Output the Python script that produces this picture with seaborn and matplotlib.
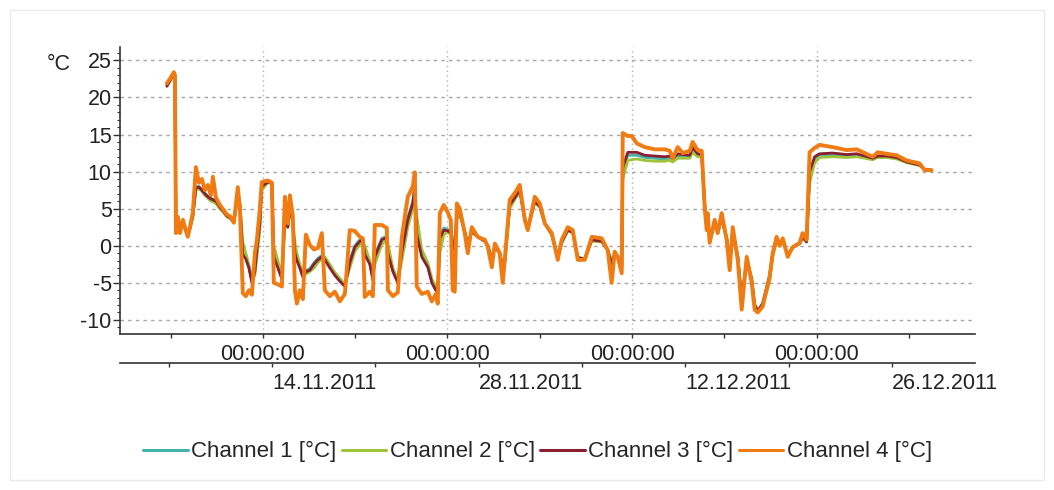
import pandas as pd
import seaborn as sns
import matplotlib.pyplot as plt
from matplotlib.ticker import MultipleLocator
from matplotlib.patches import Rectangle

# time of each sample, in days after 06.11.2011 00:00
days = [0.72, 0.95, 1.25, 1.33, 1.41, 1.56, 1.71, 1.94, 2.16, 2.31,
        2.47, 2.69, 2.92, 3.15, 3.38, 3.60, 3.83, 4.06, 4.21, 4.44,
        4.74, 5.04, 5.27, 5.50, 5.80, 6.10, 6.26, 6.48, 6.71, 6.94,
        7.17, 7.39, 7.55, 7.77, 7.92, 8.38, 8.68, 8.83, 9.14, 9.44,
        9.67, 9.89, 10.05, 10.27, 10.43, 10.58, 10.80, 11.03, 11.26, 11.56,
        11.87, 12.17, 12.47, 12.70, 13.08, 13.46, 13.84, 14.22, 14.59, 14.97,
        15.35, 15.58, 15.73, 16.11, 16.34, 16.49, 17.02, 17.40, 17.48, 17.86,
        18.23, 18.54, 18.99, 19.37, 19.52, 19.67, 20.05, 20.51, 20.81, 21.11,
        21.26, 21.42, 21.72, 22.02, 22.25, 22.40, 22.55, 22.71, 22.93, 23.31,
        23.54, 23.84, 24.30, 24.83, 25.06, 25.36, 25.59, 25.96, 26.19, 26.34,
        26.72, 27.10, 27.48, 27.86, 28.09, 28.62, 29.00, 29.38, 29.91, 30.36,
        30.66, 31.12, 31.50, 31.88, 32.41, 32.94, 33.70, 34.15, 34.45, 34.68,
        34.91, 35.21, 35.29, 35.67, 35.97, 36.35, 36.96, 37.71, 38.47, 38.85,
        39.08, 39.46, 39.84, 40.37, 40.59, 40.97, 41.28, 41.50, 41.66, 41.73,
        41.88, 42.26, 42.49, 42.79, 43.17, 43.40, 43.63, 44.01, 44.31, 44.69,
        45.07, 45.29, 45.52, 45.90, 46.43, 46.66, 46.96, 47.19, 47.42, 47.80,
        48.17, 48.71, 48.93, 49.23, 49.46, 49.84, 50.22, 51.20, 52.27, 53.03,
        54.24, 54.62, 55.30, 56.06, 56.82, 57.80, 58.18, 58.71]

ch1 = [21.6, 22.3, 23.3, 23.0, 1.8, 3.6, 1.8, 3.3, 2.1, 1.4,
       2.4, 4.1, 8.0, 8.0, 7.6, 7.1, 6.7, 6.4, 6.3, 6.1,
       5.3, 4.7, 4.1, 3.9, 3.2, 7.4, 5.4, -1.0, -1.6, -2.8,
       -4.8, -3.2, -0.2, 3.3, 8.2, 8.7, 8.5, -1.2, -2.8, -4.3,
       4.3, 2.6, 5.7, 3.2, -0.8, -1.8, -2.8, -4.0, -3.3, -3.1,
       -2.3, -1.7, -1.3, -1.7, -2.8, -3.8, -4.6, -5.3, -2.0, 0.0,
       0.8, 0.9, -1.0, -2.3, -4.4, -1.2, 1.0, 1.3, -0.8, -3.3,
       -4.8, -0.5, 3.8, 6.0, 8.2, 2.0, -1.2, -2.7, -4.8, -5.8,
       -6.0, 1.3, 2.4, 2.2, 1.9, 0.8, -0.4, 4.7, 4.6, 1.8,
       0.0, 2.1, 1.2, 0.7, 0.0, -2.0, 0.0, -1.0, -3.0, -2.0,
       5.6, 6.6, 7.6, 3.6, 2.3, 6.1, 5.4, 3.0, 1.5, -1.6,
       0.5, 2.2, 1.8, -1.6, -1.8, 0.9, 0.7, -0.6, -2.3, -1.0,
       -1.5, -3.0, 10.0, 12.2, 12.2, 12.2, 11.9, 11.8, 11.7, 11.8,
       11.6, 12.1, 12.0, 12.0, 13.0, 12.2, 12.1, 5.5, 2.5, 4.0,
       0.8, 3.0, 1.8, 3.9, 1.0, -2.5, 2.0, -1.5, -7.6, -1.8,
       -4.7, -8.1, -8.8, -7.8, -4.0, -1.0, 1.0, 0.0, 0.8, -1.3,
       -0.2, 0.3, 1.2, 0.6, 9.5, 11.7, 12.2, 12.3, 12.1, 12.2,
       11.7, 12.0, 12.0, 11.8, 11.3, 10.9, 10.3, 10.2]

ch2 = [21.7, 22.3, 23.3, 23.0, 2.0, 3.4, 2.0, 3.1, 2.3, 1.6,
       2.3, 3.8, 7.5, 7.7, 7.3, 6.8, 6.4, 6.0, 5.9, 5.7,
       5.0, 4.4, 3.9, 3.7, 3.2, 7.0, 5.8, 0.5, -1.0, -2.5,
       -4.6, -4.0, -1.5, 2.0, 7.5, 8.5, 8.4, 0.0, -2.0, -4.0,
       3.0, 2.5, 5.0, 3.2, 0.5, -1.0, -2.5, -3.8, -3.8, -3.5,
       -3.0, -2.3, -1.8, -1.5, -2.5, -3.6, -4.4, -5.2, -3.0, -0.8,
       0.2, 0.6, 0.0, -2.0, -4.0, -2.5, 0.2, 0.8, 0.3, -3.0,
       -4.6, -2.0, 2.5, 5.0, 7.0, 4.0, -0.5, -2.3, -4.4, -5.6,
       -5.8, -1.0, 1.5, 1.8, 1.6, 1.2, 0.2, 3.5, 4.2, 2.0,
       0.5, 1.8, 1.2, 0.6, 0.1, -1.5, -0.3, -1.0, -2.5, -2.2,
       5.0, 6.2, 7.2, 3.8, 2.4, 5.8, 5.2, 3.0, 1.5, -1.5,
       0.3, 2.0, 1.8, -1.5, -1.8, 0.6, 0.5, -0.6, -2.0, -1.0,
       -1.5, -2.8, 9.0, 11.5, 11.6, 11.7, 11.5, 11.4, 11.4, 11.5,
       11.3, 11.8, 11.8, 11.8, 12.6, 12.0, 12.0, 6.0, 2.8, 3.8,
       1.0, 2.8, 1.8, 3.5, 1.0, -2.0, 1.5, -1.2, -7.0, -2.0,
       -4.3, -7.8, -8.6, -8.0, -4.8, -1.5, 0.6, 0.0, 0.7, -1.2,
       -0.3, 0.3, 1.0, 0.6, 8.5, 11.2, 11.9, 12.0, 11.9, 12.0,
       11.6, 11.9, 11.9, 11.7, 11.2, 10.8, 10.3, 10.2]

ch3 = [21.5, 22.2, 23.2, 22.9, 1.9, 3.5, 1.9, 3.2, 2.2, 1.5,
       2.4, 4.0, 7.8, 7.9, 7.5, 7.0, 6.6, 6.3, 6.2, 6.0,
       5.2, 4.6, 4.0, 3.8, 3.2, 7.2, 5.5, -1.2, -1.8, -3.0,
       -5.0, -3.5, -0.5, 3.0, 8.0, 8.6, 8.4, -1.5, -3.0, -4.5,
       4.0, 2.5, 5.5, 3.0, -1.0, -2.0, -3.0, -4.2, -3.5, -3.3,
       -2.5, -1.9, -1.5, -1.9, -3.0, -4.0, -4.8, -5.5, -2.3, -0.2,
       0.6, 0.8, -1.2, -2.5, -4.6, -1.5, 0.8, 1.1, -1.0, -3.5,
       -5.0, -0.8, 3.5, 5.7, 7.9, 1.5, -1.5, -2.9, -5.0, -6.0,
       -6.2, 1.0, 2.1, 2.0, 1.7, 0.5, -0.6, 4.5, 4.5, 1.8,
       0.0, 2.0, 1.2, 0.6, 0.0, -2.0, 0.0, -1.0, -3.0, -2.0,
       5.5, 6.5, 7.5, 3.6, 2.3, 6.0, 5.3, 3.0, 1.5, -1.6,
       0.5, 2.1, 1.8, -1.6, -1.8, 0.8, 0.6, -0.6, -2.5, -1.0,
       -1.5, -3.0, 10.5, 12.6, 12.6, 12.6, 12.2, 12.1, 12.0, 12.1,
       11.8, 12.4, 12.3, 12.2, 13.3, 12.4, 12.3, 5.5, 2.5, 4.0,
       0.8, 3.0, 1.8, 3.8, 1.0, -2.5, 2.0, -1.5, -7.5, -1.8,
       -4.6, -8.0, -8.8, -7.8, -4.0, -1.0, 1.0, 0.0, 0.8, -1.3,
       -0.2, 0.3, 1.2, 0.5, 10.0, 12.0, 12.4, 12.5, 12.3, 12.4,
       11.8, 12.1, 12.1, 11.9, 11.3, 10.9, 10.3, 10.2]

ch4 = [21.9, 22.5, 23.4, 23.0, 1.7, 3.9, 1.7, 3.5, 2.0, 1.2,
       2.5, 4.5, 10.6, 8.5, 9.0, 7.5, 8.2, 6.8, 9.3, 6.5,
       5.5, 4.8, 4.2, 4.0, 3.1, 7.9, 5.0, -6.4, -6.8, -6.0,
       -6.6, -1.0, 0.8, 5.0, 8.6, 8.8, 8.5, -5.0, -5.2, -5.5,
       6.6, 3.0, 6.8, 4.0, -6.0, -7.8, -6.0, -7.2, 1.5, 0.1,
       -0.5, -0.3, 1.7, -6.0, -6.8, -6.2, -7.5, -6.5, 2.1, 2.0,
       1.2, 1.0, -6.9, -6.2, -6.8, 2.8, 2.8, 2.4, -6.0, -6.8,
       -6.3, 1.2, 6.6, 8.0, 9.9, -5.5, -6.5, -6.2, -7.5, -6.5,
       -7.8, 4.4, 5.5, 4.5, 3.5, -6.0, -6.2, 5.7, 5.0, 1.7,
       -1.0, 2.5, 1.2, 0.8, -0.2, -2.9, 0.3, -1.0, -5.0, -2.0,
       6.2, 7.1, 8.2, 3.5, 2.1, 6.6, 5.7, 3.0, 1.7, -1.9,
       0.8, 2.5, 2.1, -1.9, -1.9, 1.2, 1.0, -0.6, -5.0, -0.8,
       -1.5, -3.7, 15.2, 14.8, 14.8, 13.8, 13.3, 13.0, 13.0, 12.8,
       11.8, 13.3, 12.5, 12.8, 14.0, 12.9, 12.8, 5.2, 2.1, 4.4,
       0.4, 3.5, 1.7, 4.4, 0.8, -3.3, 2.5, -1.9, -8.6, -1.5,
       -5.0, -8.6, -9.0, -8.2, -4.2, -1.0, 1.2, 0.0, 1.0, -1.5,
       -0.2, 0.4, 1.7, 0.8, 12.6, 13.2, 13.6, 13.3, 12.9, 13.0,
       12.0, 12.6, 12.4, 12.2, 11.5, 11.1, 10.2, 10.2]

channels = ["Channel 1 [°C]", "Channel 2 [°C]", "Channel 3 [°C]", "Channel 4 [°C]"]
colors = ["#45b3a7", "#9dc43c", "#8a1f32", "#f07b12"]
widths = [2.0, 2.0, 2.0, 2.8]
midnight_ticks = ["2011-11-14", "2011-11-28", "2011-12-12", "2011-12-26"]
week_ticks = ["2011-11-07", "2011-11-21", "2011-12-05", "2011-12-19", "2012-01-02"]
date_minor = ["2011-11-07", "2011-11-21", "2011-12-05", "2011-12-19"]

sns.set_style("white")
plt.rcParams["font.family"] = ["Liberation Sans", "DejaVu Sans"]
plt.rcParams["font.size"] = 15
plt.rcParams["axes.unicode_minus"] = False

times = pd.Timestamp("2011-11-06") + pd.to_timedelta(days, unit="D")

fig = plt.figure(figsize=(10.54, 4.9), dpi=100)
ax = fig.add_axes([120 / 1054, 1 - 334 / 490, 855 / 1054, 287 / 490])

for name, vals, col, lw in zip(channels, [ch1, ch2, ch3, ch4], colors, widths):
    sns.lineplot(x=times, y=vals, color=col, linewidth=lw, label=name, ax=ax)

ax.set_xlim(pd.Timestamp("2011-11-03 04:00"), pd.Timestamp("2012-01-07 00:00"))
ax.set_ylim(-11.9, 26.8)
ax.set_xlabel("")
ax.set_ylabel("")

ax.yaxis.set_major_locator(MultipleLocator(5))
ax.yaxis.set_minor_locator(MultipleLocator(1))
ax.set_xticks(pd.to_datetime(midnight_ticks))
ax.set_xticklabels(["00:00:00"] * len(midnight_ticks))
ax.set_xticks(pd.to_datetime(week_ticks), minor=True)

ax.tick_params(axis="y", which="major", left=True, length=5, width=1, pad=1,
               labelsize=15.5, colors="#333333", labelcolor="#222222")
ax.tick_params(axis="y", which="minor", left=True, length=2.5, width=0.8, colors="#333333")
ax.tick_params(axis="x", which="both", bottom=True, length=3, width=1, pad=4,
               labelsize=15.5, colors="#333333", labelcolor="#222222")

ax.grid(axis="y", which="major", color="#a6a6a6", linestyle=(0, (2.5, 3)), linewidth=1)
ax.grid(axis="x", which="major", color="#b0b0b0", linestyle=(0, (1, 2.5)), linewidth=1)

for side in ["top", "right"]:
    ax.spines[side].set_visible(False)
for side in ["left", "bottom"]:
    ax.spines[side].set_color("#333333")
    ax.spines[side].set_linewidth(1.2)

# second (date) axis row below the time axis
ax2 = fig.add_axes([120 / 1054, 1 - 363 / 490, 855 / 1054, 0.001])
ax2.set_xlim(pd.Timestamp("2011-11-03 16:48"), pd.Timestamp("2011-12-31 15:10"))
ax2.set_yticks([])
ax2.patch.set_visible(False)
for side in ["top", "right", "left"]:
    ax2.spines[side].set_visible(False)
ax2.spines["bottom"].set_color("#333333")
ax2.spines["bottom"].set_linewidth(1.2)
date_pos = pd.to_datetime(midnight_ticks)
ax2.set_xticks(date_pos)
ax2.set_xticklabels([d.strftime("%d.%m.%Y") for d in date_pos], ha="left")
ax2.set_xticks(pd.to_datetime(date_minor), minor=True)
ax2.tick_params(axis="x", which="both", bottom=True, length=3, width=1, pad=4,
                labelsize=15.5, colors="#333333", labelcolor="#222222")

fig.text(47 / 1054, 1 - 64 / 490, "°C", ha="left", va="center", fontsize=15.5, color="#222222")

handles, labels = ax.get_legend_handles_labels()
ax.get_legend().remove()
leg = fig.legend(handles, labels, loc="center", bbox_to_anchor=(0.51, 0.078), ncol=4,
                 frameon=False, fontsize=16, handlelength=2.0, handletextpad=0.15,
                 columnspacing=0.25)
for line in leg.get_lines():
    line.set_linewidth(2.2)

fig.patches.append(Rectangle((10 / 1054, 10 / 490), 1034 / 1054, 470 / 490,
                             transform=fig.transFigure, fill=False,
                             edgecolor="#ebebeb", linewidth=1))

fig.savefig("out.png", dpi=100)
